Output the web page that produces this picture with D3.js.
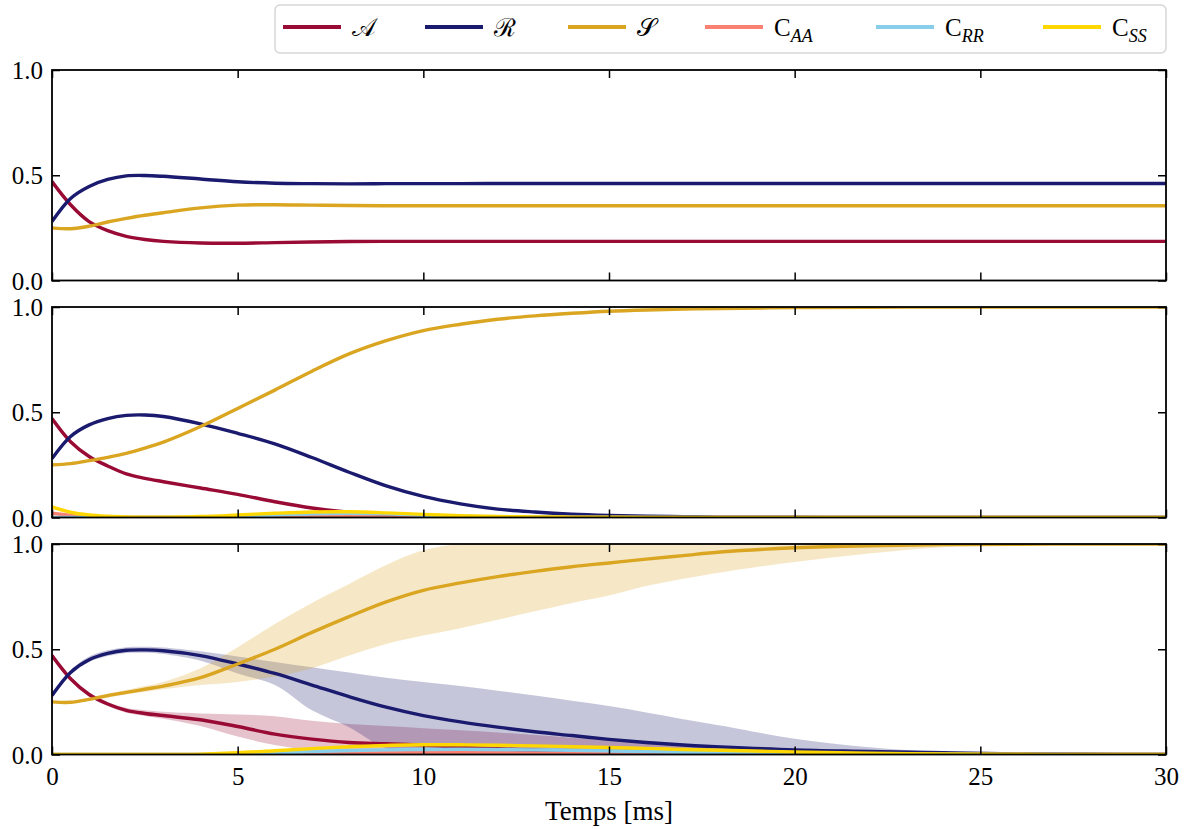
<!DOCTYPE html>
<html>
<head>
<meta charset="utf-8">
<script src="https://cdn.jsdelivr.net/npm/d3@7"></script>
<style>
  html, body { margin: 0; padding: 0; background: #fff; }
  svg { display: block; }
  text { font-family: "Liberation Serif", "Times New Roman", "DejaVu Serif", "Noto Serif", serif; fill: #000; }
</style>
</head>
<body>
<svg id="chart" width="1185" height="829"></svg>
<script>
// Time grid (ms)
const T = [0, 0.5, 1, 1.5, 2, 2.5, 3, 4, 5, 6, 7, 8, 9, 10, 11, 12, 13, 14, 15, 16, 17, 18, 20, 22, 24, 26, 28, 30];

// Panel 1: single run, populations converge to a steady state
const p1A = [0.47, 0.36, 0.28, 0.237, 0.21, 0.195, 0.186, 0.178, 0.177, 0.18, 0.183, 0.185, 0.186, 0.186, 0.186, 0.186, 0.186, 0.186, 0.186, 0.186, 0.186, 0.186, 0.186, 0.186, 0.186, 0.186, 0.186, 0.186];
const p1R = [0.28, 0.39, 0.447, 0.48, 0.497, 0.499, 0.495, 0.482, 0.469, 0.462, 0.46, 0.459, 0.46, 0.46, 0.46, 0.461, 0.461, 0.461, 0.461, 0.461, 0.461, 0.461, 0.461, 0.461, 0.461, 0.461, 0.461, 0.461];
const p1S = [0.25, 0.246, 0.258, 0.278, 0.295, 0.31, 0.322, 0.345, 0.358, 0.36, 0.358, 0.356, 0.355, 0.355, 0.355, 0.355, 0.355, 0.355, 0.355, 0.355, 0.355, 0.355, 0.355, 0.355, 0.355, 0.355, 0.355, 0.355];

// Panel 2: single run, S takes over
const p2A = [0.47, 0.36, 0.29, 0.245, 0.207, 0.186, 0.17, 0.14, 0.11, 0.075, 0.045, 0.025, 0.013, 0.006, 0.003, 0.001, 0, 0, 0, 0, 0, 0, 0, 0, 0, 0, 0, 0];
const p2R = [0.28, 0.385, 0.44, 0.47, 0.485, 0.487, 0.48, 0.445, 0.40, 0.35, 0.285, 0.215, 0.15, 0.10, 0.065, 0.04, 0.026, 0.016, 0.01, 0.006, 0.004, 0.002, 0.001, 0, 0, 0, 0, 0];
const p2S = [0.25, 0.256, 0.27, 0.286, 0.305, 0.33, 0.358, 0.432, 0.518, 0.605, 0.695, 0.777, 0.84, 0.888, 0.918, 0.942, 0.958, 0.97, 0.98, 0.986, 0.99, 0.993, 0.997, 0.999, 1, 1, 1, 1];
const p2CAA = [0.02, 0.01, 0.004, 0.002, 0.001, 0.001, 0.001, 0.002, 0.004, 0.006, 0.006, 0.005, 0.003, 0.002, 0.001, 0, 0, 0, 0, 0, 0, 0, 0, 0, 0, 0, 0, 0];
const p2CRR = [0, 0, 0, 0, 0, 0, 0, 0.001, 0.005, 0.012, 0.018, 0.02, 0.017, 0.011, 0.006, 0.003, 0.001, 0, 0, 0, 0, 0, 0, 0, 0, 0, 0, 0];
const p2CSS = [0.05, 0.025, 0.012, 0.006, 0.003, 0.002, 0.002, 0.005, 0.012, 0.02, 0.026, 0.027, 0.022, 0.015, 0.009, 0.005, 0.003, 0.002, 0.001, 0, 0, 0, 0, 0, 0, 0, 0, 0];

// Panel 3: ensemble mean with spread
const p3A = [0.47, 0.36, 0.285, 0.24, 0.21, 0.195, 0.185, 0.165, 0.133, 0.097, 0.073, 0.057, 0.051, 0.045, 0.035, 0.027, 0.02, 0.014, 0.009, 0.006, 0.004, 0.002, 0.001, 0, 0, 0, 0, 0];
const p3Alo = [0.46, 0.35, 0.275, 0.23, 0.198, 0.183, 0.17, 0.135, 0.085, 0.045, 0.02, 0.008, 0.002, 0, 0, 0, 0, 0, 0, 0, 0, 0, 0, 0, 0, 0, 0, 0];
const p3Ahi = [0.48, 0.37, 0.295, 0.25, 0.222, 0.21, 0.203, 0.195, 0.19, 0.182, 0.16, 0.145, 0.135, 0.125, 0.115, 0.105, 0.093, 0.08, 0.068, 0.058, 0.045, 0.035, 0.015, 0.004, 0, 0, 0, 0];
const p3R = [0.28, 0.39, 0.45, 0.48, 0.495, 0.497, 0.493, 0.47, 0.43, 0.385, 0.33, 0.275, 0.225, 0.185, 0.155, 0.13, 0.108, 0.09, 0.072, 0.057, 0.045, 0.036, 0.022, 0.015, 0.008, 0.003, 0.001, 0];
const p3Rlo = [0.27, 0.38, 0.44, 0.468, 0.482, 0.483, 0.477, 0.445, 0.385, 0.33, 0.21, 0.13, 0.03, 0.01, 0.004, 0.001, 0, 0, 0, 0, 0, 0, 0, 0, 0, 0, 0, 0];
const p3Rhi = [0.29, 0.4, 0.465, 0.495, 0.51, 0.512, 0.508, 0.49, 0.465, 0.44, 0.415, 0.39, 0.365, 0.345, 0.325, 0.303, 0.28, 0.255, 0.23, 0.2, 0.168, 0.138, 0.075, 0.035, 0.012, 0.003, 0, 0];
const p3S = [0.25, 0.248, 0.262, 0.28, 0.295, 0.31, 0.325, 0.365, 0.43, 0.50, 0.58, 0.655, 0.725, 0.78, 0.815, 0.845, 0.87, 0.892, 0.91, 0.928, 0.945, 0.962, 0.982, 0.992, 0.997, 0.999, 1, 1];
const p3Slo = [0.245, 0.243, 0.255, 0.27, 0.285, 0.298, 0.31, 0.33, 0.345, 0.37, 0.41, 0.47, 0.525, 0.565, 0.6, 0.64, 0.68, 0.72, 0.755, 0.8, 0.835, 0.865, 0.915, 0.955, 0.985, 0.998, 1, 1];
const p3Shi = [0.255, 0.253, 0.27, 0.29, 0.307, 0.325, 0.345, 0.41, 0.51, 0.62, 0.72, 0.81, 0.9, 0.97, 1, 1, 1, 1, 1, 1, 1, 1, 1, 1, 1, 1, 1, 1];
const p3CAA = [0, 0, 0, 0, 0, 0, 0, 0, 0, 0.002, 0.004, 0.006, 0.007, 0.008, 0.008, 0.007, 0.006, 0.005, 0.004, 0.003, 0.002, 0.001, 0, 0, 0, 0, 0, 0];
const p3CRR = [0, 0, 0, 0, 0, 0, 0, 0, 0.003, 0.008, 0.014, 0.019, 0.022, 0.024, 0.025, 0.024, 0.022, 0.02, 0.017, 0.014, 0.011, 0.009, 0.005, 0.002, 0.001, 0, 0, 0];
const p3CSS = [0, 0, 0, 0, 0, 0, 0, 0.002, 0.008, 0.018, 0.028, 0.037, 0.043, 0.046, 0.046, 0.044, 0.041, 0.037, 0.033, 0.029, 0.024, 0.02, 0.012, 0.006, 0.003, 0.001, 0, 0];

const xTicks = [0, 5, 10, 15, 20, 25, 30];
const yTicks = [0, 0.5, 1];
const yTickLabels = ["0.0", "0.5", "1.0"];

const seriesNames = ["A", "R", "S", "CAA", "CRR", "CSS"];
const colors = {
  A: "#990a35", R: "#1a1a6e", S: "#daa520",
  CAA: "#fa8072", CRR: "#87ceeb", CSS: "#ffd700"
};

const serif = '"Liberation Serif", "Times New Roman", "DejaVu Serif", "Noto Serif", serif';

const svg = d3.select("#chart");
const left = 52, right = 1166;
const panelTops = [70, 307, 544];
const panelH = 210.5;

const x = d3.scaleLinear().domain([0, 30]).range([left, right]);
const curve = d3.curveCatmullRom.alpha(0.5);

const panels = [
  { lines: { A: p1A, R: p1R, S: p1S } },
  { lines: { A: p2A, R: p2R, S: p2S, CAA: p2CAA, CRR: p2CRR, CSS: p2CSS } },
  { lines: { A: p3A, R: p3R, S: p3S, CAA: p3CAA, CRR: p3CRR, CSS: p3CSS },
    bands: { A: [p3Alo, p3Ahi], R: [p3Rlo, p3Rhi], S: [p3Slo, p3Shi] } }
];

panels.forEach((p, i) => {
  const top = panelTops[i];
  const y = d3.scaleLinear().domain([0, 1]).range([top + panelH, top]);
  const g = svg.append("g");
  const clipId = "clip" + i;
  svg.append("clipPath").attr("id", clipId)
    .append("rect").attr("x", left).attr("y", top).attr("width", right - left).attr("height", panelH);

  const plot = g.append("g").attr("clip-path", `url(#${clipId})`);

  if (p.bands) {
    Object.entries(p.bands).forEach(([k, [lo, hi]]) => {
      const area = d3.area()
        .x((d, j) => x(T[j]))
        .y0((d, j) => y(lo[j]))
        .y1((d, j) => y(hi[j]))
        .curve(curve);
      plot.append("path").datum(T).attr("d", area)
        .attr("fill", colors[k]).attr("fill-opacity", 0.25).attr("stroke", "none");
    });
  }

  seriesNames.forEach(k => {
    const vals = p.lines[k];
    if (!vals) return;
    const line = d3.line()
      .x((d, j) => x(T[j]))
      .y(d => y(d))
      .curve(curve);
    plot.append("path").datum(vals).attr("d", line)
      .attr("fill", "none").attr("stroke", colors[k]).attr("stroke-width", 3.4);
  });

  // Axes with inward ticks on all four sides
  const tickLen = 8;
  const bottom = d3.axisBottom(x).tickValues(xTicks).tickSizeInner(-tickLen).tickSizeOuter(0)
    .tickFormat(i === 2 ? d3.format("d") : () => "");
  const topAx = d3.axisTop(x).tickValues(xTicks).tickSizeInner(-tickLen).tickSizeOuter(0).tickFormat(() => "");
  const leftAx = d3.axisLeft(y).tickValues(yTicks).tickSizeInner(-tickLen).tickSizeOuter(0)
    .tickFormat((d, j) => yTickLabels[j]);
  const rightAx = d3.axisRight(y).tickValues(yTicks).tickSizeInner(-tickLen).tickSizeOuter(0).tickFormat(() => "");

  const axB = g.append("g").attr("transform", `translate(0,${top + panelH})`).call(bottom);
  const axT = g.append("g").attr("transform", `translate(0,${top})`).call(topAx);
  const axL = g.append("g").attr("transform", `translate(${left},0)`).call(leftAx);
  const axR = g.append("g").attr("transform", `translate(${right},0)`).call(rightAx);

  [axB, axT, axL, axR].forEach(a => {
    a.attr("font-family", serif);
    a.select(".domain").remove();
    a.selectAll(".tick line").attr("stroke", "#000").attr("stroke-width", 1.5);
  });
  axL.selectAll(".tick text")
    .attr("x", -9).attr("dy", "0.34em")
    .style("font-family", serif).style("font-size", "25px");
  axB.selectAll(".tick text")
    .attr("y", 12).attr("dy", "0.75em")
    .style("font-family", serif).style("font-size", "25px");

  g.append("rect").attr("x", left).attr("y", top).attr("width", right - left).attr("height", panelH)
    .attr("fill", "none").attr("stroke", "#000").attr("stroke-width", 1.8);
});

// x axis title
svg.append("text").attr("x", (left + right) / 2).attr("y", 820)
  .attr("text-anchor", "middle").style("font-family", serif).style("font-size", "27px").text("Temps [ms]");

// Legend
const legend = svg.append("g");
legend.append("rect").attr("x", 275).attr("y", 5).attr("width", 891).attr("height", 48).attr("rx", 5)
  .attr("fill", "#fff").attr("stroke", "#d6d6d6").attr("stroke-width", 1.5);

const legendItems = [
  { key: "A", x: 283, main: "𝒜" },
  { key: "R", x: 425, main: "ℛ" },
  { key: "S", x: 568, main: "𝒮" },
  { key: "CAA", x: 705, main: "C", sub: "AA" },
  { key: "CRR", x: 876, main: "C", sub: "RR" },
  { key: "CSS", x: 1043, main: "C", sub: "SS" }
];
const ly = 27;
legendItems.forEach(it => {
  legend.append("line").attr("x1", it.x).attr("x2", it.x + 58).attr("y1", ly).attr("y2", ly)
    .attr("stroke", colors[it.key]).attr("stroke-width", 4);
  const t = legend.append("text").attr("x", it.x + 69).attr("y", ly + 9)
    .style("font-family", serif).style("font-size", "25px");
  t.append("tspan").text(it.main);
  if (it.sub) {
    t.append("tspan").attr("dy", 6).style("font-size", "18px").style("font-style", "italic").text(it.sub);
  }
});
</script>
</body>
</html>
